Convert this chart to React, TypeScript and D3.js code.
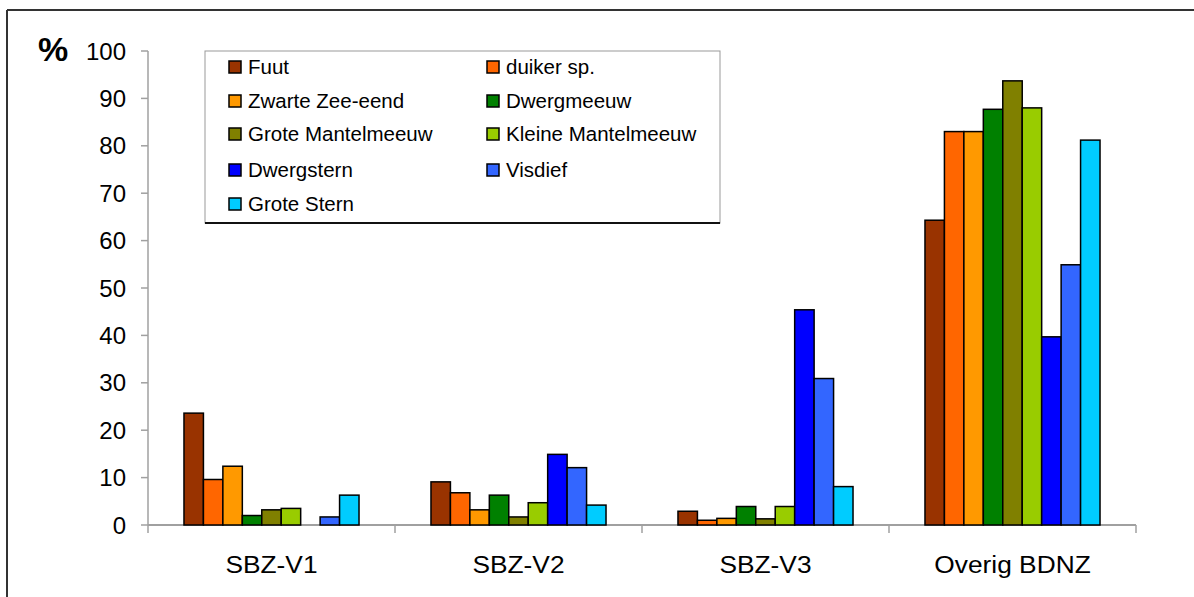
import React from "react";
import * as d3 from "d3";

const categories = ["SBZ-V1", "SBZ-V2", "SBZ-V3", "Overig BDNZ"];
const series = [
  "Fuut",
  "duiker sp.",
  "Zwarte Zee-eend",
  "Dwergmeeuw",
  "Grote Mantelmeeuw",
  "Kleine Mantelmeeuw",
  "Dwergstern",
  "Visdief",
  "Grote Stern",
];
const colors = [
  "#993300",
  "#FF6600",
  "#FF9900",
  "#008000",
  "#808000",
  "#99CC00",
  "#0000FF",
  "#3366FF",
  "#00CCFF",
];
// values per series, in category order
const fuut = [23.6, 9.1, 2.9, 64.3];
const duiker = [9.6, 6.8, 1.0, 83.0];
const zwarteZeeEend = [12.4, 3.2, 1.4, 83.0];
const dwergmeeuw = [2.0, 6.3, 3.9, 87.7];
const groteMantelmeeuw = [3.2, 1.7, 1.3, 93.7];
const kleineMantelmeeuw = [3.5, 4.7, 3.9, 88.0];
const dwergstern = [0, 14.9, 45.4, 39.7];
const visdief = [1.7, 12.1, 30.9, 54.9];
const groteStern = [6.3, 4.2, 8.1, 81.2];
const values = [fuut, duiker, zwarteZeeEend, dwergmeeuw, groteMantelmeeuw, kleineMantelmeeuw, dwergstern, visdief, groteStern];
const yTicks = [0, 10, 20, 30, 40, 50, 60, 70, 80, 90, 100];

const W = 1194;
const H = 597;
const left = 148;
const right = 1136;
const top = 51;
const bottom = 525;
const FONT = "Arial, 'Liberation Sans', sans-serif";

export default function App() {
  const x0 = d3.scaleBand<string>().domain(categories).range([left, right]).paddingInner(0).paddingOuter(0);
  const x1 = d3
    .scaleBand<string>()
    .domain(series)
    .range([0, x0.bandwidth()])
    .paddingInner(0)
    .paddingOuter(1.85);
  const y = d3.scaleLinear().domain([0, 100]).range([bottom, top]);

  const legendX = 205;
  const legendY = 51;
  const legendW = 515;
  const legendH = 172;
  const rowYs = [67, 101, 134, 170, 204];
  const colXs = [229, 487];

  return (
    <svg
      width={W}
      height={H}
      style={{ position: "absolute", left: 0, top: 0, background: "#fff" }}
      fontFamily={FONT}
    >
      <rect x={0} y={0} width={W} height={H} fill="#fff" />
      {/* outer frame */}
      <line x1={7} y1={10} x2={W} y2={10} stroke="#333" strokeWidth={2} />
      <line x1={7} y1={10} x2={7} y2={H} stroke="#333" strokeWidth={2} />

      {/* y axis */}
      <line x1={left} y1={top} x2={left} y2={bottom} stroke="#a0a0a0" strokeWidth={1.5} />
      {yTicks.map((t) => (
        <g key={t}>
          <line x1={left - 7} y1={y(t)} x2={left} y2={y(t)} stroke="#a0a0a0" strokeWidth={1.5} />
          <text
            x={126}
            y={y(t)}
            dy="0.36em"
            textAnchor="end"
            fontSize={24}
            fill="#000"
          >
            {t}
          </text>
        </g>
      ))}
      <text x={38} y={61} fontSize={34} fontWeight="bold" fill="#000">
        %
      </text>

      {/* x axis */}
      <line x1={left} y1={bottom} x2={right} y2={bottom} stroke="#a0a0a0" strokeWidth={2} />
      {[...categories.map((c) => x0(c) as number), right].map((xx, i) => (
        <line key={i} x1={xx} y1={bottom} x2={xx} y2={bottom + 8} stroke="#a0a0a0" strokeWidth={1.5} />
      ))}
      {categories.map((c) => {
        const cx = (x0(c) as number) + x0.bandwidth() / 2;
        return (
          <text
            key={c}
            transform={`translate(${cx},573) scale(1.12,1)`}
            textAnchor="middle"
            fontSize={23.5}
            fill="#000"
          >
            {c}
          </text>
        );
      })}

      {/* bars */}
      {categories.map((c, ci) => (
        <g key={c} transform={`translate(${x0(c)},0)`}>
          {series.map((s, si) => {
            const v = values[si][ci];
            if (v <= 0) return null;
            const bx = x1(s) as number;
            return (
              <rect
                key={s}
                x={bx}
                y={y(v)}
                width={x1.bandwidth()}
                height={bottom - y(v)}
                fill={colors[si]}
                stroke="#000"
                strokeWidth={1.5}
              />
            );
          })}
        </g>
      ))}

      {/* legend */}
      <rect x={legendX} y={legendY} width={legendW} height={legendH} fill="#fff" stroke="#999" strokeWidth={1} />
      <line
        x1={legendX}
        y1={legendY + legendH}
        x2={legendX + legendW}
        y2={legendY + legendH}
        stroke="#111"
        strokeWidth={2}
      />
      {series.map((s, i) => {
        const col = i % 2;
        const row = Math.floor(i / 2);
        const sx = colXs[col];
        const sy = rowYs[row];
        return (
          <g key={s}>
            <rect x={sx} y={sy - 6} width={12} height={12} fill={colors[i]} stroke="#000" strokeWidth={1.5} />
            <text x={sx + 19} y={sy} dy="0.36em" fontSize={20.5} fill="#000">
              {s}
            </text>
          </g>
        );
      })}
    </svg>
  );
}
